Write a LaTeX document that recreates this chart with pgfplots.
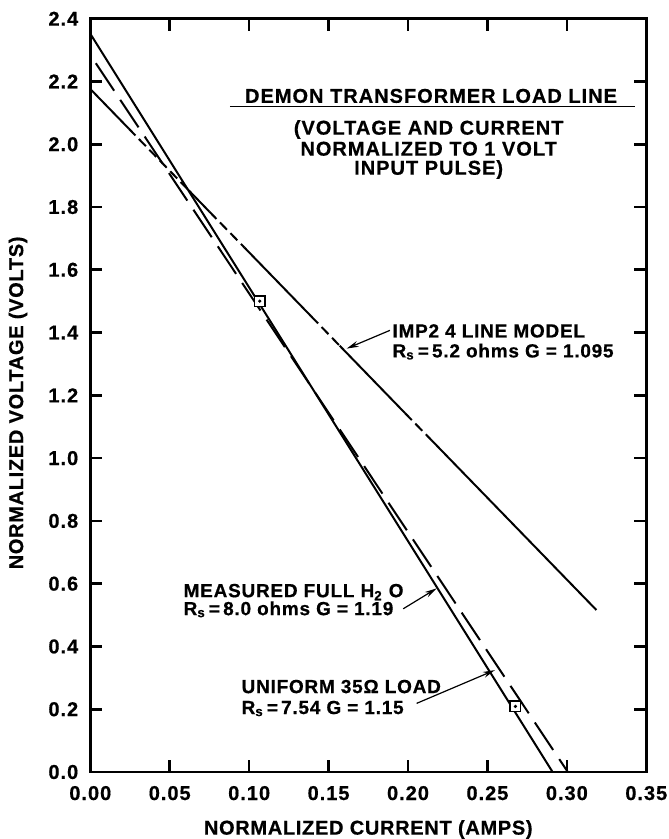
\documentclass[border=0pt]{standalone}
\usepackage{fontspec}
\setmainfont{Liberation Sans}
\newfontfamily\ticksf{Liberation Sans}[LetterSpace=5, BoldFeatures={FakeBold=0.6}]
\newfontfamily\titlesf{Liberation Sans}[LetterSpace=5, BoldFeatures={FakeBold=0.6}]
\newfontfamily\axsf{Liberation Sans}[LetterSpace=3.5, BoldFeatures={FakeBold=0.6}]
\newfontfamily\labsf{Liberation Sans}[LetterSpace=4, BoldFeatures={FakeBold=0.6}]
\usepackage{pgfplots}
\pgfplotsset{compat=1.18}
\usetikzlibrary{arrows.meta}
\newcommand{\tf}{\ticksf\bfseries\fontsize{10}{11}\selectfont}
\newcommand{\ttf}{\titlesf\bfseries\fontsize{10}{11}\selectfont}
\newcommand{\af}{\axsf\bfseries\fontsize{10}{11}\selectfont}
\newcommand{\lf}{\labsf\bfseries\fontsize{9.5}{10}\selectfont}
\begin{document}
\begin{tikzpicture}
\begin{axis}[
  scale only axis, width=278pt, height=376.65pt,
  xmin=0, xmax=0.35, ymin=0, ymax=2.4,
  xtick={0,0.05,0.10,0.15,0.20,0.25,0.30,0.35},
  ytick={0,0.2,0.4,0.6,0.8,1.0,1.2,1.4,1.6,1.8,2.0,2.2,2.4},
  tick align=inside, major tick length=6pt,
  every tick/.style={line width=1.3pt, black},
  axis line style={line width=1.3pt},
  /pgf/number format/assume math mode=true,
  x tick label style={font=\tf, anchor=base, yshift=-14pt,
    /pgf/number format/fixed, /pgf/number format/fixed zerofill, /pgf/number format/precision=2},
  y tick label style={font=\tf, anchor=east, xshift=-2.5pt,
    /pgf/number format/fixed, /pgf/number format/fixed zerofill, /pgf/number format/precision=1},
  clip=false,
]
% MEASURED FULL H2O (solid)
\addplot[line width=1pt, black] coordinates {(0,2.352) (0.291,0)};
% UNIFORM 35 ohm load (long dashes)
\addplot[line width=1pt, black, dash pattern=on 16.5pt off 5.5pt] coordinates {(0.0035,2.258) (0.3006,0)};
% IMP2 4 LINE MODEL (mostly solid, broken in places)
\addplot[line width=1pt, black] coordinates {(0,2.176) (0.024,2.051)};
\addplot[line width=1pt, black, dash pattern=on 5pt off 2.5pt] coordinates {(0.024,2.051) (0.062,1.853)};
\addplot[line width=1pt, black] coordinates {(0.062,1.853) (0.075,1.785)};
\addplot[line width=1pt, black, dash pattern=on 5pt off 2.5pt] coordinates {(0.075,1.785) (0.097,1.671)};
\addplot[line width=1pt, black] coordinates {(0.097,1.671) (0.139,1.452)};
\addplot[line width=1pt, black, dash pattern=on 5pt off 2.5pt] coordinates {(0.139,1.452) (0.157,1.358)};
\addplot[line width=1pt, black] coordinates {(0.157,1.358) (0.198,1.144)};
\addplot[line width=1pt, black, dash pattern=on 5pt off 2.5pt] coordinates {(0.198,1.144) (0.215,1.056)};
\addplot[line width=1pt, black] coordinates {(0.215,1.056) (0.3186,0.516)};
% measured points
\addplot[only marks, mark=square*, mark size=2.6pt, mark options={line width=0.8pt, draw=black, fill=white}] coordinates {(0.1067,1.50) (0.2676,0.209)};
\addplot[only marks, mark=*, mark size=0.6pt, black] coordinates {(0.1067,1.50) (0.2676,0.209)};

% title block
\node[font=\ttf, anchor=base, inner sep=0] at (axis cs:0.2145,2.132) {DEMON TRANSFORMER LOAD LINE};
\draw[line width=0.6pt] (axis cs:0.0879,2.120) -- (axis cs:0.3428,2.120);
\node[font=\ttf, anchor=base, inner sep=0] at (axis cs:0.213,2.0306) {(VOLTAGE AND CURRENT};
\node[font=\ttf, anchor=base, inner sep=0] at (axis cs:0.213,1.9637) {NORMALIZED TO 1 VOLT};
\node[font=\ttf, anchor=base, inner sep=0] at (axis cs:0.213,1.903) {INPUT PULSE)};

% IMP2 label
\node[font=\lf, anchor=base west, inner sep=0] at (axis cs:0.190,1.3844) {IMP2 4 LINE MODEL};
\node[font=\lf, anchor=base west, inner sep=0] at (axis cs:0.190,1.3208) {R\textsubscript{s}\,=\,5.2 ohms G = 1.095};
\draw[line width=0.6pt, -{Stealth[length=6pt,width=3pt]}] (axis cs:0.1886,1.407) -- (axis cs:0.1614,1.349);

% MEASURED label
\node[font=\lf, anchor=base west, inner sep=0] at (axis cs:0.0585,0.557) {MEASURED FULL H\textsubscript{2} O};
\node[font=\lf, anchor=base west, inner sep=0] at (axis cs:0.0585,0.4997) {R\textsubscript{s}\,=\,8.0 ohms G = 1.19};
\draw[line width=0.6pt, -{Stealth[length=6pt,width=3pt]}] (axis cs:0.197,0.520) -- (axis cs:0.218,0.585);

% UNIFORM label
\node[font=\lf, anchor=base west, inner sep=0] at (axis cs:0.095,0.2514) {UNIFORM 35Ω LOAD};
\node[font=\lf, anchor=base west, inner sep=0] at (axis cs:0.095,0.1846) {R\textsubscript{s}\,=\,7.54 G = 1.15};
\draw[line width=0.6pt, -{Stealth[length=6pt,width=3pt]}] (axis cs:0.2054,0.2186) -- (axis cs:0.2547,0.3246);

% axis labels
\node[font=\af, rotate=90, anchor=center] at ([xshift=-36.2pt]rel axis cs:0,0.49) {NORMALIZED VOLTAGE (VOLTS)};
\node[font=\af, anchor=base] at ([yshift=-31.3pt]rel axis cs:0.5,0) {NORMALIZED CURRENT (AMPS)};
\end{axis}
\pgfresetboundingbox
\path[use as bounding box] (-45.15pt,-33.5pt) rectangle (288.85pt,386pt);
\end{tikzpicture}
\end{document}
